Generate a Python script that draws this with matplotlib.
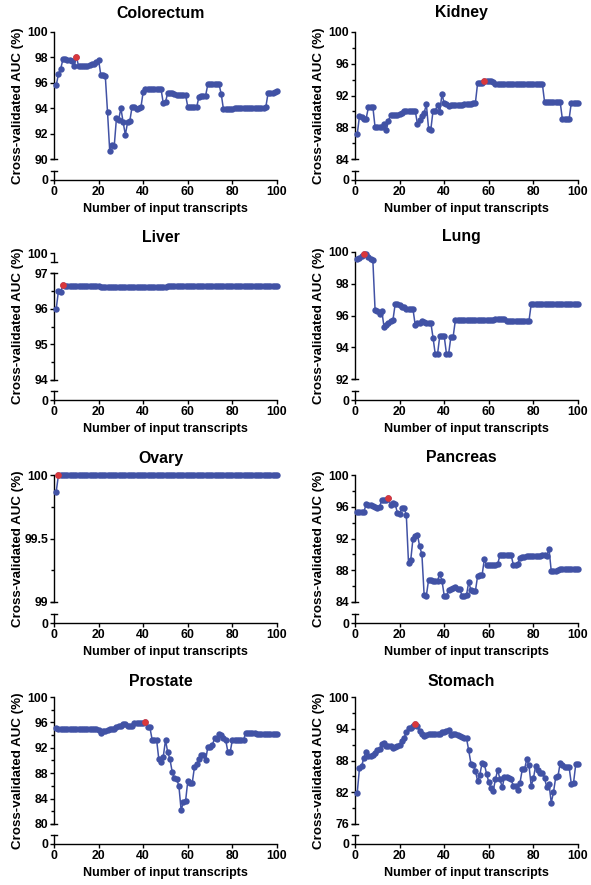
"""
Cross-validated AUC vs number of input transcripts, one panel per tissue.
Prism-style broken y axis: a main range plus a short stub down to 0.
"""

import numpy as np
import matplotlib
matplotlib.use('Agg')
import matplotlib.pyplot as plt
from matplotlib.lines import Line2D

plt.rcParams['font.family'] = ['Liberation Sans', 'DejaVu Sans']
plt.rcParams['font.weight'] = 'bold'

# ── Data ─────────────────────────────────────────────────────
N_TRANSCRIPTS = list(range(1, 101))

TISSUES = ["Colorectum", "Kidney", "Liver", "Lung",
           "Ovary", "Pancreas", "Prostate", "Stomach"]

COLORECTUM = [
    95.8, 96.7, 97.1, 97.85, 97.85, 97.8, 97.8, 97.75, 97.3, 98.05,
    97.35, 97.35, 97.3, 97.3, 97.35, 97.4, 97.45, 97.5, 97.6, 97.8,
    96.6, 96.6, 96.55, 93.7, 90.6, 91.1, 91.0, 93.2, 93.1, 94.0,
    92.9, 91.9, 92.9, 93.0, 94.1, 94.1, 93.9, 94.0, 94.1, 95.3,
    95.5, 95.5, 95.5, 95.5, 95.5, 95.5, 95.5, 95.5, 94.4, 94.5,
    95.2, 95.2, 95.2, 95.1, 95.05, 95.05, 95.05, 95.05, 95.05, 94.1,
    94.1, 94.1, 94.1, 94.1, 94.9, 95.0, 95.0, 95.0, 95.9, 95.9,
    95.9, 95.9, 95.9, 95.9, 95.1, 93.9, 93.9, 93.9, 93.9, 93.9,
    94.0, 94.0, 94.0, 94.0, 94.0, 94.0, 94.0, 94.0, 94.0, 94.0,
    94.0, 94.0, 94.0, 94.0, 94.1, 95.2, 95.2, 95.2, 95.3, 95.35,
]

KIDNEY = [
    87.1, 89.4, 89.3, 89.1, 89.1, 90.5, 90.6, 90.6, 88.0, 88.0,
    88.0, 88.0, 88.4, 87.6, 88.8, 89.6, 89.6, 89.6, 89.6, 89.7,
    89.8, 90.0, 90.1, 90.1, 90.1, 90.1, 90.1, 88.4, 88.9, 89.4,
    89.8, 90.9, 87.8, 87.7, 90.1, 90.1, 90.8, 89.9, 92.2, 91.0,
    90.9, 90.7, 90.8, 90.8, 90.8, 90.8, 90.8, 90.8, 90.9, 90.9,
    90.9, 90.9, 91.0, 91.1, 93.6, 93.6, 93.6, 93.8, 93.8, 93.8,
    93.8, 93.7, 93.5, 93.5, 93.5, 93.5, 93.5, 93.5, 93.5, 93.5,
    93.5, 93.5, 93.5, 93.5, 93.5, 93.5, 93.5, 93.5, 93.5, 93.45,
    93.5, 93.5, 93.5, 93.5, 91.2, 91.2, 91.2, 91.2, 91.2, 91.2,
    91.2, 91.2, 89.0, 89.0, 89.0, 89.0, 91.1, 91.1, 91.1, 91.1,
]

LIVER = [96.0, 96.5, 96.48, 96.65] + [96.63] * 16 + [96.61] * 30 + [96.64] * 50

LUNG = [
    99.55, 99.6, 99.75, 99.9, 99.85, 99.7, 99.55, 99.5, 96.35, 96.3,
    96.1, 96.3, 95.3, 95.4, 95.55, 95.65, 95.7, 96.7, 96.7, 96.65,
    96.55, 96.55, 96.4, 96.4, 96.4, 96.4, 95.4, 95.5, 95.55, 95.65,
    95.6, 95.55, 95.55, 95.55, 94.6, 93.55, 93.55, 94.7, 94.7, 94.7,
    93.6, 93.6, 94.65, 94.65, 95.7, 95.7, 95.7, 95.7, 95.7, 95.7,
    95.7, 95.7, 95.7, 95.7, 95.7, 95.7, 95.7, 95.7, 95.7, 95.7,
    95.7, 95.7, 95.8, 95.8, 95.8, 95.8, 95.8, 95.65, 95.65, 95.65,
    95.65, 95.65, 95.65, 95.65, 95.65, 95.65, 95.65, 95.65, 96.7, 96.7,
] + [96.7] * 20

OVARY = [99.87] + [100.0] * 99

PANCREAS = [
    95.4, 95.4, 95.4, 95.4, 96.3, 96.2, 96.2, 96.1, 96.0, 95.9,
    96.0, 96.8, 96.9, 96.9, 97.15, 96.2, 96.5, 96.4, 95.2, 95.1,
    95.8, 95.8, 95.0, 88.9, 89.3, 92.0, 92.3, 92.5, 91.0, 90.0,
    84.9, 84.8, 86.8, 86.8, 86.7, 86.7, 86.7, 87.5, 86.7, 84.8,
    84.8, 85.5, 85.6, 85.8, 85.9, 85.7, 85.6, 84.8, 84.8, 84.9,
    86.5, 85.5, 85.4, 85.4, 87.3, 87.4, 87.4, 89.4, 88.6, 88.6,
    88.6, 88.6, 88.7, 88.8, 89.9, 89.9, 89.9, 89.9, 89.9, 89.9,
    88.7, 88.7, 88.8, 89.6, 89.7, 89.7, 89.8, 89.8, 89.8, 89.8,
    89.8, 89.8, 89.8, 89.9, 89.9, 89.8, 90.7, 87.9, 87.9, 87.9,
    88.0, 88.1, 88.1, 88.1, 88.1, 88.1, 88.1, 88.1, 88.1, 88.1,
]

PROSTATE = [
    95.1, 95.0, 95.0, 95.0, 95.0, 95.0, 95.0, 95.0, 95.0, 95.0,
    94.9, 94.9, 94.9, 94.9, 94.9, 94.9, 94.9, 94.9, 94.9, 94.8,
    94.4, 94.6, 94.7, 94.8, 94.9, 95.0, 95.0, 95.2, 95.4, 95.5,
    95.8, 95.8, 95.5, 95.5, 95.5, 95.9, 95.9, 95.9, 95.9, 95.9,
    96.0, 95.3, 95.2, 93.3, 93.3, 93.3, 90.2, 89.8, 90.6, 93.2,
    91.3, 90.2, 88.2, 87.2, 87.1, 86.0, 82.2, 83.4, 83.6, 86.8,
    86.5, 86.5, 89.0, 89.4, 90.3, 90.9, 90.9, 90.0, 92.2, 92.2,
    92.4, 93.5, 93.4, 94.2, 94.0, 93.5, 93.2, 91.3, 91.3, 93.3,
    93.3, 93.3, 93.3, 93.3, 93.3, 94.3, 94.3, 94.3, 94.3, 94.4,
    94.2, 94.2, 94.2, 94.2, 94.2, 94.2, 94.2, 94.2, 94.2, 94.2,
]

STOMACH = [
    81.9, 86.5, 87.0, 88.5, 89.7, 88.8, 88.8, 89.1, 89.4, 89.9,
    90.2, 91.1, 91.4, 90.8, 90.7, 90.8, 90.4, 90.5, 90.8, 90.9,
    91.7, 92.3, 93.3, 94.1, 94.2, 94.5, 94.9, 94.5, 93.6, 93.0,
    92.7, 92.8, 93.1, 93.1, 93.1, 93.1, 93.1, 93.1, 93.3, 93.3,
    93.6, 93.8, 92.8, 93.0, 93.1, 92.8, 92.7, 92.5, 92.3, 92.2,
    89.9, 87.4, 87.2, 86.0, 84.1, 85.3, 87.6, 87.3, 85.5, 83.9,
    82.8, 82.3, 84.5, 86.2, 84.5, 82.9, 84.8, 84.8, 84.6, 84.5,
    83.1, 83.2, 82.5, 83.8, 86.3, 86.3, 88.2, 87.2, 83.2, 84.6,
    87.0, 86.2, 85.7, 85.6, 84.6, 83.0, 83.6, 80.0, 82.0, 84.8,
    85.0, 87.5, 87.2, 86.8, 86.7, 86.8, 83.6, 83.8, 87.3, 87.3,
]

SERIES = [COLORECTUM, KIDNEY, LIVER, LUNG, OVARY, PANCREAS, PROSTATE, STOMACH]

# number of transcripts giving the best AUC (red point)
BEST_N = [10, 58, 4, 4, 2, 15, 41, 27]

# main y range of each panel: (low, high, major step, minor step)
Y_RANGES = [
    (90, 100, 2, None), (84, 100, 4, 2),
    (94, 97, 1, 0.5), (92, 100, 2, None),
    (99, 100, 0.5, 0.25), (84, 100, 4, 2),
    (80, 100, 4, 2), (76, 100, 6, 3),
]

# ── Layout (pixels) ─────────────────────────────────────────
W, H = 591, 885
COL_LEFT = [54, 355]
AX_W = 223
ROW_TOP = [32, 252, 475, 697]
ROW_ZERO = [180, 400, 623, 844]
ROW_TITLE = [13, 237, 458, 681]
MAIN_H = 127
STUB_H = 9
CAP = 3

BLUE = '#4152a5'
RED = '#d9373b'
TICK_FS = 8.8
XLABEL_FS = 9.0
YLABEL_FS = 9.6
TITLE_FS = 11.4


def frect(left, top, width, height):
    return [left / W, 1 - (top + height) / H, width / W, height / H]


def cap(fig, x, y):
    fig.add_artist(Line2D([(x - CAP) / W, (x + CAP) / W], [1 - y / H, 1 - y / H],
                          transform=fig.transFigure, color='black', lw=1.0))


def style_axis(ax):
    for s in ('top', 'right'):
        ax.spines[s].set_visible(False)
    for s in ('left', 'bottom'):
        ax.spines[s].set_linewidth(1.0)
    ax.tick_params(which='major', length=3.2, width=1.0, labelsize=TICK_FS, pad=1.0)
    ax.tick_params(which='minor', length=2.0, width=1.0)
    for lbl in ax.get_xticklabels() + ax.get_yticklabels():
        lbl.set_fontweight('bold')


def draw_panel(fig, i):
    col, row = i % 2, i // 2
    left = COL_LEFT[col]
    top = ROW_TOP[row]
    zero = ROW_ZERO[row]
    lo, hi, step, minor = Y_RANGES[i]
    vals = SERIES[i]
    best = BEST_N[i]

    main_top = top
    main_h = MAIN_H
    if TISSUES[i] == "Liver":
        # extra short segment holding the 100 tick
        seg = fig.add_axes(frect(left, top + 1, AX_W, 9))
        seg.set_xlim(0, 100)
        seg.set_ylim(99.0, 100)
        seg.set_yticks([100])
        seg.set_xticks([])
        seg.spines['bottom'].set_visible(False)
        style_axis(seg)
        seg.patch.set_alpha(0)
        cap(fig, left, top + 10)
        main_top = 273
        main_h = 380 - 273
        cap(fig, left, main_top)

    ax = fig.add_axes(frect(left, main_top, AX_W, main_h))
    ax.patch.set_alpha(0)
    ax.set_xlim(0, 100)
    ax.set_ylim(lo, hi)
    ax.set_yticks(np.arange(lo, hi + 1e-9, step))
    if minor:
        ax.set_yticks(np.arange(lo, hi + 1e-9, minor), minor=True)
    ax.set_yticklabels([f"{v:g}" for v in np.arange(lo, hi + 1e-9, step)])
    ax.set_xticks([])
    ax.spines['bottom'].set_visible(False)
    style_axis(ax)

    ax.plot(N_TRANSCRIPTS, vals, '-o', color=BLUE, lw=1.1, ms=4.6,
            markeredgewidth=0, clip_on=False, zorder=3)
    ax.plot([best], [vals[best - 1]], 'o', color=RED, ms=4.8,
            markeredgewidth=0, clip_on=False, zorder=4)
    cap(fig, left, main_top + main_h)

    # stub down to zero carrying the x axis
    stub = fig.add_axes(frect(left, zero - STUB_H, AX_W, STUB_H))
    stub.patch.set_alpha(0)
    stub.set_xlim(0, 100)
    stub.set_ylim(0, 1)
    stub.set_yticks([0])
    stub.set_xticks(range(0, 101, 20))
    style_axis(stub)
    cap(fig, left, zero - STUB_H)

    cx = left + AX_W / 2
    fig.text((cx - 5) / W, 1 - ROW_TITLE[row] / H, TISSUES[i], ha='center',
             va='center', fontsize=TITLE_FS, fontweight='bold')
    fig.text(cx / W, 1 - (zero + 29) / H, "Number of input transcripts",
             ha='center', va='center', fontsize=XLABEL_FS, fontweight='bold')
    fig.text((left - 36) / W, 1 - ((ROW_TOP[row] + zero) / 2) / H,
             "Cross-validated AUC (%)", rotation=90, ha='center', va='center',
             fontsize=YLABEL_FS, fontweight='bold')


def main():
    fig = plt.figure(figsize=(W / 100, H / 100), dpi=100)
    for i in range(len(TISSUES)):
        draw_panel(fig, i)
    fig.savefig("out.png", dpi=100)
    plt.close(fig)


if __name__ == "__main__":
    main()
